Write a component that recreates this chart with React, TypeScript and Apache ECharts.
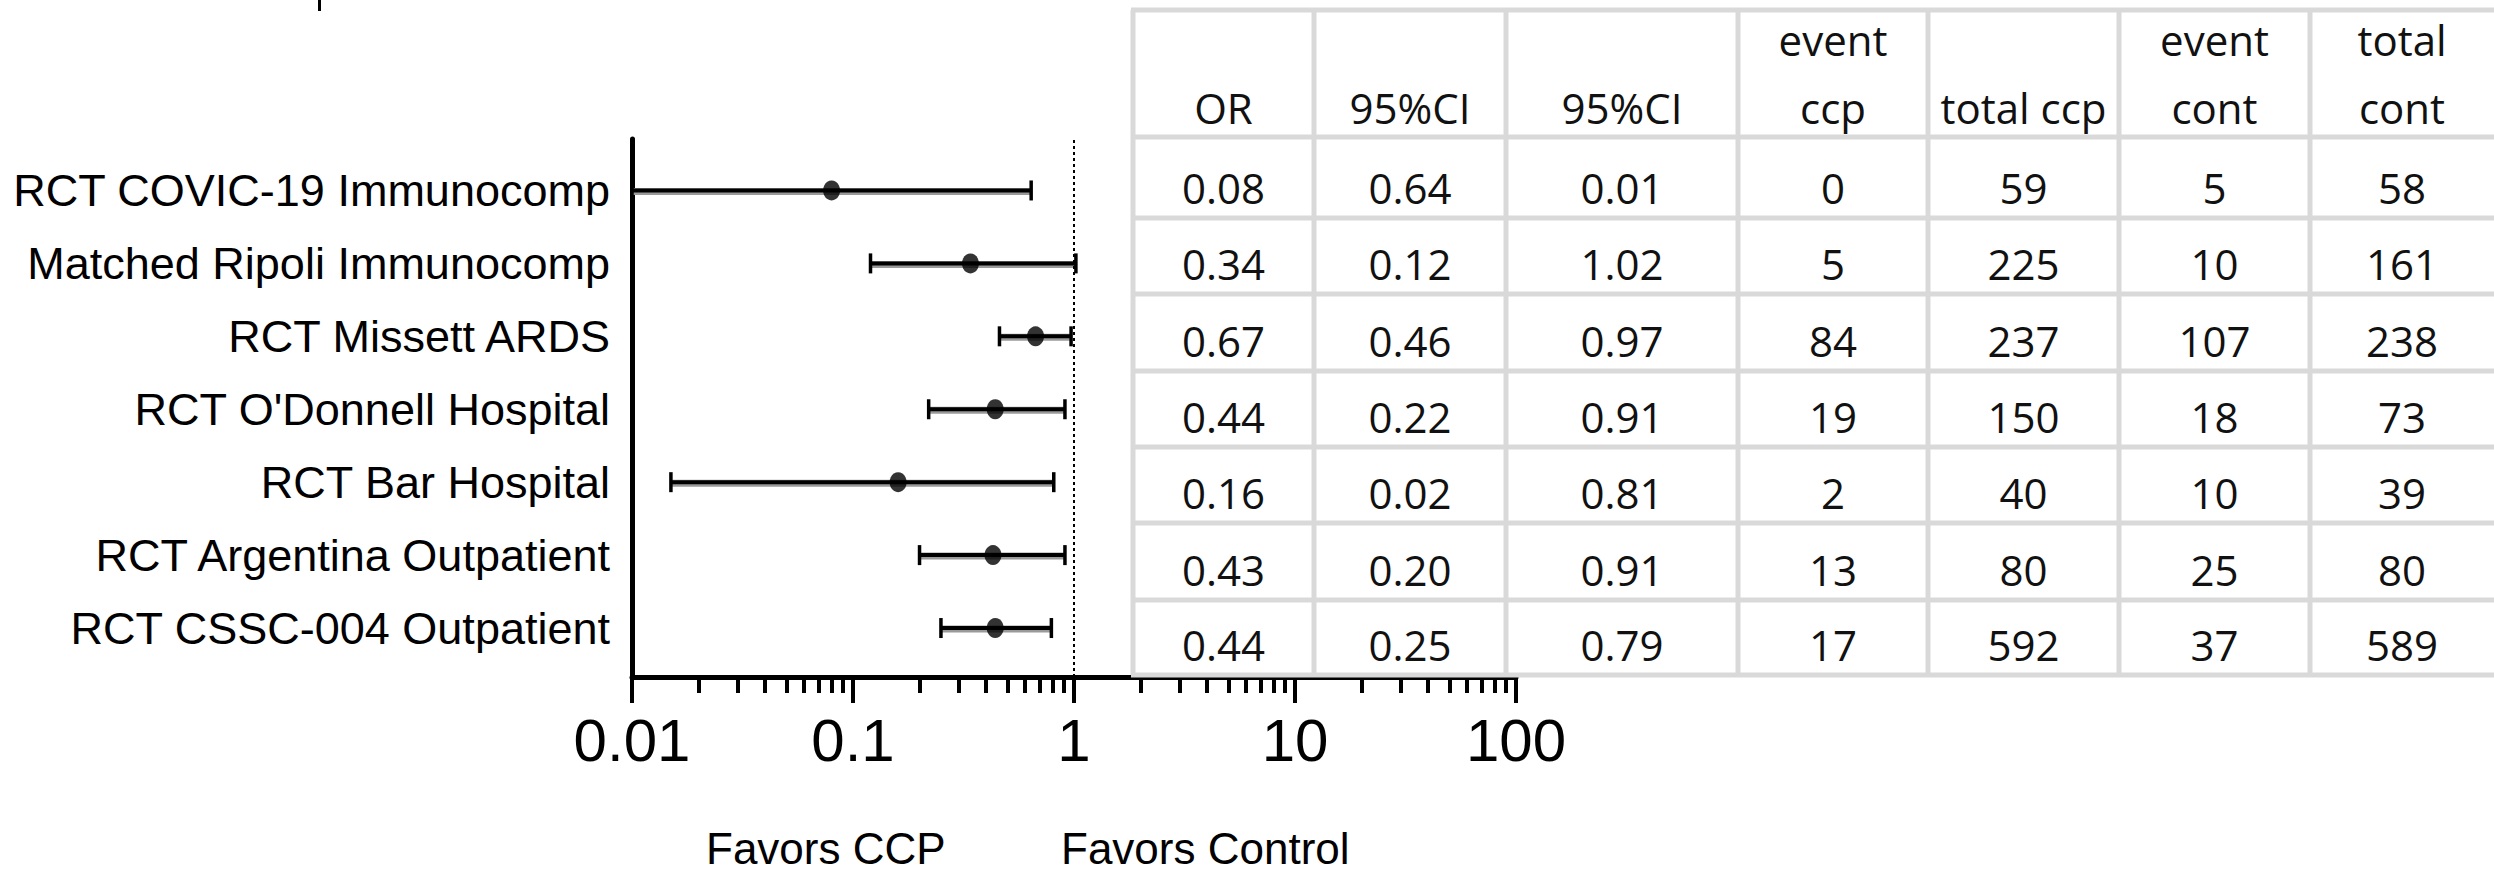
import React, { useEffect, useRef } from 'react';
import * as echarts from 'echarts';

// ---------- data ----------
const studies = [
  'RCT COVIC-19 Immunocomp',
  'Matched Ripoli Immunocomp',
  'RCT Missett ARDS',
  "RCT O'Donnell Hospital",
  'RCT Bar Hospital',
  'RCT Argentina Outpatient',
  'RCT CSSC-004 Outpatient',
];
const oddsRatio = [0.08, 0.34, 0.67, 0.44, 0.16, 0.43, 0.44];
const ciLowPlot = [0.01, 0.12, 0.46, 0.22, 0.015, 0.2, 0.25];
const ciHighPlot = [0.64, 1.02, 0.97, 0.91, 0.81, 0.91, 0.79];
const xTickLabels = ['0.01', '0.1', '1', '10', '100'];
const directionLabels = ['Favors CCP', 'Favors Control'];

const headerTop = ['', '', '', 'event', '', 'event', 'total'];
const headerBottom = ['OR', '95%CI', '95%CI', 'ccp', 'total ccp', 'cont', 'cont'];
const colOR = ['0.08', '0.34', '0.67', '0.44', '0.16', '0.43', '0.44'];
const colCI1 = ['0.64', '0.12', '0.46', '0.22', '0.02', '0.20', '0.25'];
const colCI2 = ['0.01', '1.02', '0.97', '0.91', '0.81', '0.91', '0.79'];
const colEventCcp = ['0', '5', '84', '19', '2', '13', '17'];
const colTotalCcp = ['59', '225', '237', '150', '40', '80', '592'];
const colEventCont = ['5', '10', '107', '18', '10', '25', '37'];
const colTotalCont = ['58', '161', '238', '73', '39', '80', '589'];
const tableColumns = [colOR, colCI1, colCI2, colEventCcp, colTotalCcp, colEventCont, colTotalCont];

// ---------- layout ----------
const W = 2494;
const H = 871;
const COL_EDGES = [1133, 1314, 1506, 1738, 1928, 2119, 2310, 2494];
const ROW_EDGES = [10, 137, 218, 294, 371, 447, 523, 600, 675];
const TABLE_FONT = '"Open Sans", "DejaVu Sans", sans-serif';
const PLOT_FONT = '"Liberation Sans", Arial, Helvetica, sans-serif';

function buildTable(): any[] {
  const els: any[] = [];
  const gray = '#d9d9d9';
  els.push({
    type: 'rect',
    z: 100,
    shape: { x: COL_EDGES[0] - 2, y: ROW_EDGES[0] - 3, width: W - COL_EDGES[0] + 2, height: ROW_EDGES[ROW_EDGES.length - 1] - ROW_EDGES[0] + 3 },
    style: { fill: '#fff' },
  });
  ROW_EDGES.forEach((y) => {
    els.push({
      type: 'line',
      z: 101,
      shape: { x1: COL_EDGES[0] - 2, y1: y, x2: W, y2: y },
      style: { stroke: gray, lineWidth: 5 },
    });
  });
  COL_EDGES.slice(0, -1).forEach((x) => {
    els.push({
      type: 'line',
      z: 101,
      shape: { x1: x, y1: ROW_EDGES[0], x2: x, y2: ROW_EDGES[ROW_EDGES.length - 1] },
      style: { stroke: gray, lineWidth: 5 },
    });
  });
  const centers = COL_EDGES.slice(0, -1).map((x, i) => (x + COL_EDGES[i + 1]) / 2);
  const txt = (s: string, x: number, baseline: number) => ({
    type: 'text',
    z: 102,
    x,
    y: baseline - 16,
    style: {
      text: s,
      align: 'center',
      verticalAlign: 'middle',
      fontSize: 42,
      fontFamily: TABLE_FONT,
      fill: '#111',
    },
  });
  centers.forEach((cx, c) => {
    if (headerTop[c]) els.push(txt(headerTop[c], cx, 55));
    els.push(txt(headerBottom[c], cx, 123));
    tableColumns[c].forEach((v, r) => {
      els.push(txt(v, cx, ROW_EDGES[r + 2] - 15));
    });
  });
  return els;
}

export default function App() {
  const ref = useRef<HTMLDivElement>(null);
  useEffect(() => {
    document.body.style.margin = '0';
    const chart = echarts.init(ref.current!, null, { renderer: 'svg', width: W, height: H });
    const gridLeft = 632;
    const gridRight = W - 1516;
    const option: any = {
      animation: false,
      backgroundColor: '#fff',
      grid: [
        { left: gridLeft, right: gridRight, top: 139, bottom: H - 677, outerBoundsMode: 'none', containLabel: false },
        { left: gridLeft, right: gridRight, top: 154, bottom: H - 664.5, outerBoundsMode: 'none', containLabel: false },
      ],
      xAxis: [
        {
          type: 'log',
          gridIndex: 0,
          logBase: 10,
          min: 0.01,
          max: 100,
          axisLine: { show: true, onZero: false, lineStyle: { color: '#000', width: 5 } },
          axisTick: { show: true, length: 26, lineStyle: { color: '#000', width: 4 } },
          minorTick: { show: true, splitNumber: 9, length: 16, lineStyle: { color: '#000', width: 4 } },
          splitLine: { show: false },
          minorSplitLine: { show: false },
          axisLabel: {
            show: true,
            margin: 33,
            fontSize: 60,
            fontFamily: PLOT_FONT,
            color: '#000',
            formatter: (v: number, i: number) => xTickLabels[i] ?? String(v),
          },
        },
        {
          type: 'log',
          gridIndex: 1,
          logBase: 10,
          min: 0.01,
          max: 100,
          show: false,
        },
      ],
      yAxis: [
        {
          type: 'value',
          gridIndex: 0,
          min: 0,
          max: 1,
          axisLine: { show: true, onZero: false, lineStyle: { color: '#000', width: 5 } },
          axisTick: { show: false },
          axisLabel: { show: false },
          splitLine: { show: false },
        },
        {
          type: 'category',
          gridIndex: 1,
          inverse: true,
          data: studies,
          axisLine: { show: false },
          axisTick: { show: false },
          splitLine: { show: false },
          axisLabel: {
            margin: 22,
            fontSize: 45,
            fontFamily: PLOT_FONT,
            color: '#000',
          },
        },
      ],
      series: [
        {
          type: 'line',
          xAxisIndex: 0,
          yAxisIndex: 0,
          data: [],
          silent: true,
          markLine: {
            silent: true,
            symbol: ['none', 'none'],
            label: { show: false },
            lineStyle: { color: '#000', width: 2, type: [3, 3] },
            data: [{ xAxis: 1 }],
          },
        },
        {
          type: 'custom',
          xAxisIndex: 1,
          yAxisIndex: 1,
          silent: true,
          encode: { x: [0, 1], y: 2 },
          data: studies.map((s, i) => [ciLowPlot[i], ciHighPlot[i], s]),
          renderItem: (params: any, api: any) => {
            const lo = api.coord([api.value(0), api.value(2)]);
            const hi = api.coord([api.value(1), api.value(2)]);
            const cap = 10;
            return {
              type: 'group',
              children: [
                {
                  type: 'line',
                  shape: { x1: lo[0], y1: lo[1] + 1, x2: hi[0], y2: hi[1] + 1 },
                  style: { stroke: '#9a9a9a', lineWidth: 7 },
                },
                {
                  type: 'line',
                  shape: { x1: lo[0], y1: lo[1], x2: hi[0], y2: hi[1] },
                  style: { stroke: '#000', lineWidth: 4 },
                },
                {
                  type: 'line',
                  shape: { x1: lo[0], y1: lo[1] - cap, x2: lo[0], y2: lo[1] + cap },
                  style: { stroke: '#000', lineWidth: 3.5 },
                },
                {
                  type: 'line',
                  shape: { x1: hi[0], y1: hi[1] - cap, x2: hi[0], y2: hi[1] + cap },
                  style: { stroke: '#000', lineWidth: 3.5 },
                },
              ],
            };
          },
          z: 3,
        },
        {
          type: 'scatter',
          xAxisIndex: 1,
          yAxisIndex: 1,
          silent: true,
          symbol: 'circle',
          symbolSize: [17, 20],
          itemStyle: { color: '#000' },
          data: studies.map((s, i) => [oddsRatio[i], s]),
          z: 5,
        },
      ],
      graphic: [
        {
          type: 'rect',
          shape: { x: 318, y: 0, width: 3, height: 11 },
          style: { fill: '#000' },
        },
        {
          type: 'text',
          x: 706,
          y: 848,
          style: { text: directionLabels[0], align: 'left', verticalAlign: 'middle', fontSize: 44, lineHeight: 40, fontFamily: PLOT_FONT, fill: '#000' },
        },
        {
          type: 'text',
          x: 1061,
          y: 848,
          style: { text: directionLabels[1], align: 'left', verticalAlign: 'middle', fontSize: 44, lineHeight: 40, fontFamily: PLOT_FONT, fill: '#000' },
        },
        ...buildTable(),
      ],
    };
    chart.setOption(option);
    return () => chart.dispose();
  }, []);
  return <div ref={ref} style={{ position: 'absolute', left: 0, top: 0, width: W, height: H }} />;
}
